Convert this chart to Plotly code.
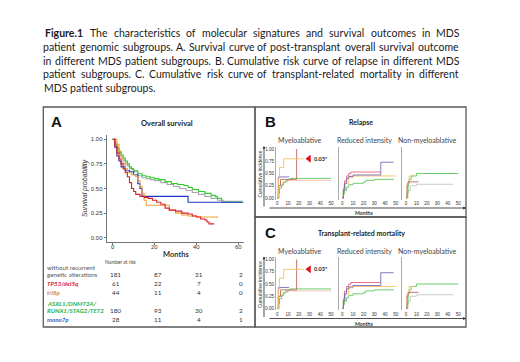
import plotly.graph_objects as go

# page shows the figure with an 8px body margin, so the figure is drawn 8px in from the window edge
OFF = 8
W, H = 512, 354

# ---------------- caption ----------------
caption_lines = [
    "Figure.1 The characteristics of molecular signatures and survival outcomes in MDS",
    "patient genomic subgroups. A. Survival curve of post-transplant overall survival outcome",
    "in different MDS patient subgroups. B. Cumulative risk curve of relapse in different MDS",
    "patient subgroups. C. Cumulative risk curve of transplant-related mortality in different",
    "MDS patient subgroups.",
]

# ---------------- panel A: overall survival (Kaplan-Meier) ----------------
os_none_t = [0, 1, 2, 3, 4, 5, 6, 7, 8, 10, 12, 14, 16, 18, 20, 23, 26, 29, 32, 35, 38, 41, 44, 47, 50, 53, 62]
os_none_s = [1.0, 0.96, 0.91, 0.86, 0.82, 0.79, 0.76, 0.73, 0.70, 0.67, 0.63, 0.61, 0.60, 0.59, 0.58, 0.56, 0.54, 0.52, 0.50, 0.48, 0.46, 0.44, 0.42, 0.40, 0.38, 0.37, 0.37]
os_tp53_t = [0, 1, 2, 3, 4, 5, 6, 7, 8, 9, 10, 11, 13, 15, 17, 19, 21, 23, 25, 27, 30, 33, 36, 38, 40, 42, 44, 45, 46, 48.5]
os_tp53_s = [1.0, 0.93, 0.86, 0.80, 0.75, 0.70, 0.66, 0.62, 0.56, 0.50, 0.47, 0.44, 0.42, 0.41, 0.40, 0.38, 0.36, 0.34, 0.30, 0.28, 0.27, 0.25, 0.24, 0.22, 0.21, 0.19, 0.18, 0.16, 0.14, 0.14]
os_tri8p_t = [0, 2, 3, 4, 5, 6, 7, 9, 11, 12, 13, 14, 15, 16, 25, 27, 30, 33, 36, 40, 50]
os_tri8p_s = [1.0, 0.95, 0.88, 0.82, 0.75, 0.70, 0.66, 0.64, 0.62, 0.58, 0.52, 0.45, 0.38, 0.33, 0.33, 0.28, 0.25, 0.23, 0.22, 0.21, 0.20]
os_asxl1_t = [0, 1, 2, 3, 4, 5, 6, 7, 8, 9, 10, 12, 14, 16, 18, 20, 22, 25, 28, 31, 34, 36, 38, 41, 44, 47, 49, 50, 52, 62.5]
os_asxl1_s = [1.0, 0.95, 0.91, 0.87, 0.84, 0.81, 0.78, 0.75, 0.72, 0.70, 0.68, 0.65, 0.63, 0.62, 0.61, 0.60, 0.59, 0.57, 0.55, 0.54, 0.53, 0.51, 0.49, 0.47, 0.45, 0.43, 0.42, 0.40, 0.36, 0.36]
os_mono7_t = [0, 1, 2, 3, 4, 6, 8, 10, 12, 13, 14, 35, 36, 62]
os_mono7_s = [1.0, 0.92, 0.83, 0.78, 0.72, 0.68, 0.67, 0.64, 0.55, 0.50, 0.42, 0.42, 0.36, 0.36]

os_x_ticks = [0, 20, 40, 60]
os_y_ticks = [0, 0.25, 0.5, 0.75, 1.0]

risk_times = [0, 20, 40, 60]
risk_none = [181, 87, 31, 2]
risk_tp53 = [61, 22, 7, 0]
risk_tri8p = [44, 11, 4, 0]
risk_asxl1 = [180, 93, 30, 2]
risk_mono7 = [28, 11, 4, 1]

# ---------------- panels B and C: cumulative incidence ----------------
regimens = ["Myeloablative", "Reduced intensity", "Non-myeloablative"]
ci_x_ticks = [0, 10, 20, 30, 40, 50]
ci_y_ticks = [0, 0.25, 0.5, 0.75, 1.0]

# relapse (B)
rel_mac = [
    ("pink",   [0, 2, 5, 10, 50],            [0, 0.25, 0.33, 0.36, 0.36]),
    ("green",  [0, 1, 2, 4, 6, 8, 10, 12, 50], [0, 0.10, 0.20, 0.27, 0.32, 0.36, 0.38, 0.40, 0.40]),
    ("purple", [0, 1, 11],                   [0, 0.43, 0.43]),
    ("brown",  [0, 1, 3, 17, 18],            [0, 0.25, 0.38, 0.38, 1.0]),
    ("orange", [0, 1, 2, 6, 25],             [0, 0.40, 0.62, 0.80, 0.80]),
]
rel_ric = [
    ("green",  [0, 1, 2, 4, 6, 10, 20, 22, 30, 48], [0, 0.08, 0.15, 0.22, 0.27, 0.30, 0.33, 0.36, 0.38, 0.39]),
    ("orange", [0, 1, 3, 6, 10, 50],              [0, 0.15, 0.30, 0.42, 0.45, 0.45]),
    ("red",    [0, 1, 2, 4, 6, 8, 36],            [0, 0.20, 0.35, 0.45, 0.50, 0.53, 0.53]),
    ("purple", [0, 1, 2, 4, 6, 10, 36, 48],       [0, 0.15, 0.30, 0.40, 0.44, 0.47, 0.73, 0.73]),
]
rel_nma = [
    ("gray",   [0, 2, 4, 10, 45],       [0, 0.15, 0.25, 0.28, 0.28]),
    ("green",  [0, 1, 2, 3, 5, 10, 50], [0, 0.10, 0.30, 0.38, 0.45, 0.50, 0.50]),
    ("orange", [0, 1, 3, 8],            [0, 0.30, 0.45, 0.45]),
    ("brown",  [0, 1, 2, 12],           [0, 0.25, 0.33, 0.33]),
]
# transplant-related mortality (C) (same shapes as B)
trm_mac = [
    ("pink",   [0, 2, 5, 10, 50],            [0, 0.25, 0.33, 0.36, 0.36]),
    ("green",  [0, 1, 2, 4, 6, 8, 10, 12, 50], [0, 0.10, 0.20, 0.27, 0.32, 0.36, 0.38, 0.40, 0.40]),
    ("purple", [0, 1, 11],                   [0, 0.43, 0.43]),
    ("brown",  [0, 1, 3, 17, 18],            [0, 0.25, 0.38, 0.38, 1.0]),
    ("orange", [0, 1, 2, 6, 25],             [0, 0.40, 0.62, 0.80, 0.80]),
]
trm_ric = [
    ("green",  [0, 1, 2, 4, 6, 10, 20, 22, 30, 48], [0, 0.08, 0.15, 0.22, 0.27, 0.30, 0.33, 0.36, 0.38, 0.39]),
    ("orange", [0, 1, 3, 6, 10, 50],              [0, 0.15, 0.30, 0.42, 0.45, 0.45]),
    ("red",    [0, 1, 2, 4, 6, 8, 36],            [0, 0.20, 0.35, 0.45, 0.50, 0.53, 0.53]),
    ("purple", [0, 1, 2, 4, 6, 10, 36, 48],       [0, 0.15, 0.30, 0.40, 0.44, 0.47, 0.73, 0.73]),
]
trm_nma = [
    ("gray",   [0, 2, 4, 10, 45],       [0, 0.15, 0.25, 0.28, 0.28]),
    ("green",  [0, 1, 2, 3, 5, 10, 50], [0, 0.10, 0.30, 0.38, 0.45, 0.50, 0.50]),
    ("orange", [0, 1, 3, 8],            [0, 0.30, 0.45, 0.45]),
    ("brown",  [0, 1, 2, 12],           [0, 0.25, 0.33, 0.33]),
]
pval_text = "0.03*"
pval_x = 29.5
pval_y = 0.80

# ---------------- styling ----------------
os_colors = {"none": "#a9a9a9", "tp53": "#d9202a", "tri8p": "#f0a030",
             "asxl1": "#33cc33", "mono7": "#2233cc"}
ci_colors = {"orange": "#f2c25a", "brown": "#b86a5e", "purple": "#7a6ab4",
             "red": "#e2607a", "green": "#5cc85c", "gray": "#c4c4c4", "pink": "#f2bcae"}

def X(px):
    return (px - OFF) / W

def Y(py):
    return 1 - (py - OFF) / H

fig = go.Figure()
ann = []
shapes = []

# ---- caption, justified ----
LATO = {' ': .193, 'a': .47, 'b': .54, 'c': .45, 'd': .54, 'e': .51, 'f': .31, 'g': .49, 'h': .54,
        'i': .23, 'j': .23, 'k': .49, 'l': .23, 'm': .81, 'n': .54, 'o': .54, 'p': .54, 'q': .54,
        'r': .36, 's': .42, 't': .34, 'u': .54, 'v': .50, 'w': .76, 'x': .48, 'y': .50, 'z': .45,
        'A': .66, 'B': .62, 'C': .64, 'D': .72, 'E': .55, 'F': .53, 'G': .70, 'H': .74, 'I': .29,
        'M': .88, 'N': .74, 'R': .61, 'S': .52, 'T': .58, '.': .20, '-': .34, '1': .58}
CAP_SIZE = 10.5
WFAC = 1.07
cap_left, cap_right = 43.3, 459.5
cap_y0, cap_dy = 33.4, 13.6

def word_w(w, bold=False):
    return sum(LATO.get(c, .52) for c in w) * CAP_SIZE * WFAC * (1.07 if bold else 1.0)

for i, line in enumerate(caption_lines):
    yy = cap_y0 + i * cap_dy
    words = line.split(" ")
    if i == len(caption_lines) - 1:
        ann.append(dict(x=X(cap_left), y=Y(yy), xref="paper", yref="paper", text=line,
                        showarrow=False, xanchor="left", yanchor="middle", xshift=-1.5,
                        font=dict(family="Lato", size=CAP_SIZE, color="#1a1a1a")))
        continue
    bolds = [w.startswith("Figure") for w in words]
    widths = [word_w(w, b) for w, b in zip(words, bolds)]
    gap = (cap_right - cap_left - sum(widths)) / (len(words) - 1)
    xx = cap_left
    for w, b, wd in zip(words, bolds, widths):
        ann.append(dict(x=X(xx + wd / 2), y=Y(yy), xref="paper", yref="paper",
                        text=f"<b>{w}</b>" if b else w, showarrow=False,
                        xanchor="center", yanchor="middle",
                        font=dict(family="Lato", size=CAP_SIZE, color="#1a1a1a")))
        xx += wd + gap

# ---- panel boxes ----
for (x0, y0, x1, y1) in [(43.3, 107, 255, 327), (255, 107, 466, 217), (255, 217, 466, 327)]:
    shapes.append(dict(type="rect", xref="paper", yref="paper", x0=X(x0), x1=X(x1),
                       y0=Y(y1), y1=Y(y0), line=dict(color="#5a5a5a", width=1.3)))

# ---- Panel A ----
A_series = [("none", os_none_t, os_none_s), ("asxl1", os_asxl1_t, os_asxl1_s),
            ("mono7", os_mono7_t, os_mono7_s), ("tri8p", os_tri8p_t, os_tri8p_s),
            ("tp53", os_tp53_t, os_tp53_s)]
for key, t, s in A_series:
    fig.add_trace(go.Scatter(x=t, y=s, mode="lines", line=dict(color=os_colors[key], width=1.1, shape="hv"),
                             xaxis="x", yaxis="y", showlegend=False, hoverinfo="skip"))

layout_axes = {}
tickfontA = dict(family="Liberation Sans", size=6, color="#333")
layout_axes["xaxis"] = dict(domain=[X(106.7), X(244)], range=[-2.87, 62.7], anchor="y",
                            showline=True, linecolor="#777", linewidth=1, ticks="outside", ticklen=2,
                            tickcolor="#777", tickvals=os_x_ticks, showticklabels=False,
                            showgrid=False, zeroline=False)
layout_axes["yaxis"] = dict(domain=[Y(241.7), Y(135)], range=[-0.041, 1.044], anchor="x",
                            showline=True, linecolor="#777", linewidth=1, ticks="outside", ticklen=2,
                            tickcolor="#777", tickvals=os_y_ticks,
                            ticktext=[f"{v:.2f}" for v in os_y_ticks], showgrid=False, zeroline=False,
                            tickfont=tickfontA)
for tv in os_x_ticks:
    ann.append(dict(x=tv, y=Y(247), xref="x", yref="paper", text=str(tv), showarrow=False,
                    xanchor="center", yanchor="middle", font=tickfontA))

def txt(px, py, text, size, color="#222", family="Lato", xanchor="center", angle=0, bold=False, italic=False):
    if bold:
        text = f"<b>{text}</b>"
    if italic:
        text = f"<i>{text}</i>"
    ann.append(dict(x=X(px), y=Y(py), xref="paper", yref="paper", text=text, showarrow=False,
                    xanchor=xanchor, yanchor="middle", textangle=angle,
                    font=dict(family=family, size=size, color=color)))

txt(56, 121.5, "A", 15, "#111", "Liberation Sans", bold=True)
txt(167, 123.7, "Overall survival", 7.5, "#222", bold=True)
txt(85, 188, "Survival probability", 6.8, "#333", "Liberation Sans", angle=-90, italic=True)
txt(176, 254.5, "Months", 7.5, "#333", bold=True)
txt(121, 261.5, "Number at risk", 4.8, "#444")

risk_rows = [
    (["without recurrent", "genetic alterations"], [267.7, 274.7], risk_none, "#555", False),
    (["TP53/del5q"], [283.7], risk_tp53, "#e0203a", True),
    (["tri8p"], [292.3], risk_tri8p, "#d98a4a", True),
    (["ASXL1/DNMT3A/", "RUNX1/STAG2/TET2"], [303, 310.7], risk_asxl1, "#2bb04a", True),
    (["mono7p"], [319.7], risk_mono7, "#3a5fcd", True),
]
for labels, ys, counts, col, ital in risk_rows:
    for lab, yy in zip(labels, ys):
        txt(45, yy, lab, 6.2, col, xanchor="left", bold=ital, italic=ital)
    for tt, c in zip(risk_times, counts):
        ann.append(dict(x=tt, y=Y(ys[-1]), xref="x", yref="paper", text=str(c), showarrow=False,
                        xanchor="center", yanchor="middle", xshift=3,
                        font=dict(family="Lato", size=6.3, color="#333")))

# ---- Panels B and C ----
sub_x = [  # (axis px, px of month 0, px of month 50, right px)
    (276, 277.3, 331.0, 333),
    (339, 342.3, 395.7, 398),
    (402, 406.0, 458.3, 461),
]
panel_defs = [
    ("B", "Relapse", 0, [rel_mac, rel_ric, rel_nma]),
    ("C", "Transplant-related mortality", 110.5, [trm_mac, trm_ric, trm_nma]),
]
ax_i = 2
for letter, title, dy, data in panel_defs:
    base0, scale = 198 + dy, 49.0
    txt(270, 121.7 + dy, letter, 15, "#111", "Liberation Sans", bold=True)
    txt(361, 122 + dy, title, 7, "#222", bold=True)
    top_px, bot_px = 146.5 + dy, 199.5 + dy
    for j, (reg, (axpx, p0, p50, rpx)) in enumerate(zip(regimens, sub_x)):
        k = (p50 - p0) / 50.0
        xr = [(axpx - p0) / k, (rpx - p0) / k]
        yr = [(base0 - bot_px) / scale, (base0 - top_px) / scale]
        xa, ya = f"x{ax_i}", f"y{ax_i}"
        for key, t, s in data[j]:
            fig.add_trace(go.Scatter(x=t, y=s, mode="lines",
                                     line=dict(color=ci_colors[key], width=0.9, shape="hv"),
                                     xaxis=xa, yaxis=ya, showlegend=False, hoverinfo="skip"))
        tf = dict(family="Liberation Sans", size=4.6, color="#333")
        layout_axes[f"xaxis{ax_i}"] = dict(domain=[X(axpx), X(rpx)], range=xr, anchor=ya,
                                           showline=False, showgrid=False, zeroline=False,
                                           tickvals=ci_x_ticks, ticks="", tickfont=tf)
        layout_axes[f"yaxis{ax_i}"] = dict(domain=[Y(bot_px), Y(top_px)], range=yr, anchor=xa,
                                           showline=True, linecolor="#aaa", linewidth=0.8,
                                           showgrid=False, zeroline=False, ticks="",
                                           tickvals=ci_y_ticks,
                                           ticktext=[f"{v:.2f}" for v in ci_y_ticks],
                                           showticklabels=(j == 0), tickfont=tf)
        txt((axpx + rpx) / 2 - 5 if j == 0 else (axpx + rpx) / 2 - 4, 140 + dy, reg, 7, "#444")
        if j == 0:
            fig.add_trace(go.Scatter(x=[pval_x], y=[pval_y], mode="markers",
                                     marker=dict(symbol="triangle-left", size=7, color="#e0101a"),
                                     xaxis=xa, yaxis=ya, showlegend=False, hoverinfo="skip"))
            ann.append(dict(x=pval_x + 3, y=pval_y, xref=xa, yref=ya, text=f"<b>{pval_text}</b>",
                            showarrow=False, xanchor="left", yanchor="middle",
                            font=dict(family="Lato", size=5.5, color="#222")))
        ax_i += 1
    # arrows and axis titles
    arr_y = 208 + dy
    ann.append(dict(x=X(466), y=Y(arr_y), xref="paper", yref="paper", text="", showarrow=True,
                    ax=-198, ay=0, axref="pixel", ayref="pixel", arrowhead=2, arrowsize=0.7,
                    arrowwidth=0.8, arrowcolor="#222"))
    ann.append(dict(x=X(264), y=Y(146 + dy), xref="paper", yref="paper", text="", showarrow=True,
                    ax=0, ay=arr_y - (146 + dy), axref="pixel", ayref="pixel", arrowhead=2,
                    arrowsize=0.7, arrowwidth=0.8, arrowcolor="#222"))
    txt(364, 213.3 + dy, "Months", 5.2, "#333", bold=True)
    txt(259.5, 174 + dy, "Cumulative incidence", 5, "#333", angle=-90)

fig.update_layout(width=W, height=H, margin=dict(l=0, r=0, t=0, b=0), autosize=False,
                  paper_bgcolor="white", plot_bgcolor="white",
                  annotations=ann, shapes=shapes, showlegend=False, **layout_axes)

fig.write_html("out.html")
